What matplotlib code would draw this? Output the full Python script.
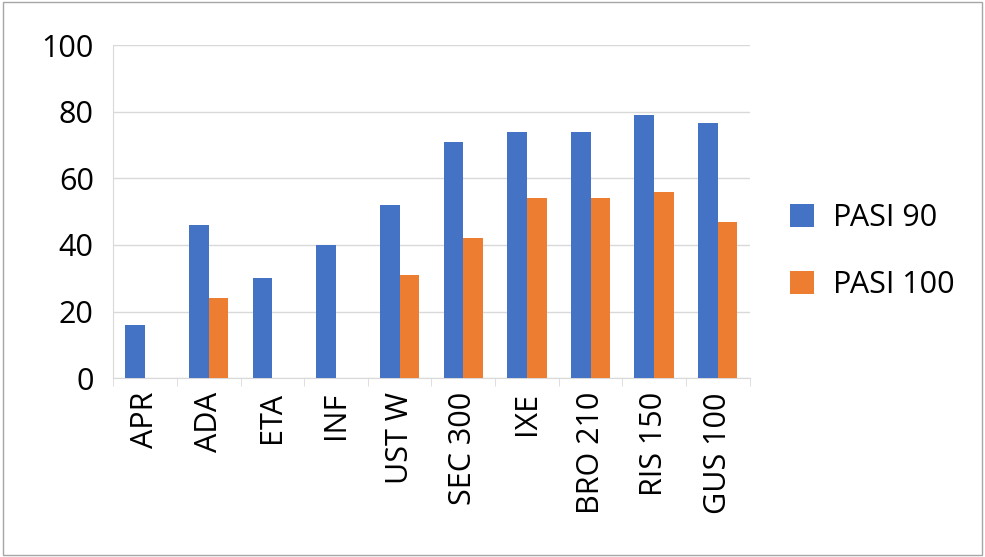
import matplotlib.pyplot as plt
import numpy as np

categorias = ["APR", "ADA", "ETA", "INF", "UST W", "SEC 300", "IXE", "BRO 210", "RIS 150", "GUS 100"]
pasi90 = [16, 46, 30, 40, 52, 71, 74, 74, 79, 76.5]
pasi100 = [np.nan, 24, np.nan, np.nan, 31, 42, 54, 54, 56, 47]

plt.rcParams["font.family"] = "Open Sans"
fig = plt.figure(figsize=(9.85, 5.57), dpi=100)
fig.patches.append(plt.Rectangle((0.003, 0.003), 0.994, 0.994, transform=fig.transFigure,
                                 fill=False, edgecolor="#a6a6a6", linewidth=1))
ax = fig.add_axes([0.115, 0.321, 0.646, 0.598])

x = np.arange(len(categorias))
w = 0.31
ax.bar(x - w / 2, pasi90, w, color="#4472C4", label="PASI 90", zorder=3)
ax.bar(x + w / 2, pasi100, w, color="#ED7D31", label="PASI 100", zorder=3)

ax.set_xlim(-0.5, len(categorias) - 0.5)
ax.set_ylim(0, 100)
ax.set_yticks(range(0, 101, 20))
ax.set_xticks(x)
ax.set_xticklabels(categorias, rotation=90)
ax.tick_params(axis="both", labelsize=22, length=0)
ax.tick_params(axis="x", pad=10)
ax.tick_params(axis="y", pad=14)
ax.yaxis.grid(True, color="#d9d9d9", linewidth=1, zorder=0)
for s in ["top", "right"]:
    ax.spines[s].set_visible(False)
ax.spines["bottom"].set_color("#d9d9d9")
ax.spines["left"].set_color("#d9d9d9")
ax.set_xticks(np.arange(-0.5, len(categorias), 1), minor=True)
ax.tick_params(axis="x", which="minor", length=6, color="#d9d9d9")

ax.legend(loc="center left", bbox_to_anchor=(1.02, 0.38), frameon=False, fontsize=22,
          handlelength=0.8, handleheight=0.8, labelspacing=1.2, handletextpad=0.6)

fig.savefig("out.png", dpi=100)
